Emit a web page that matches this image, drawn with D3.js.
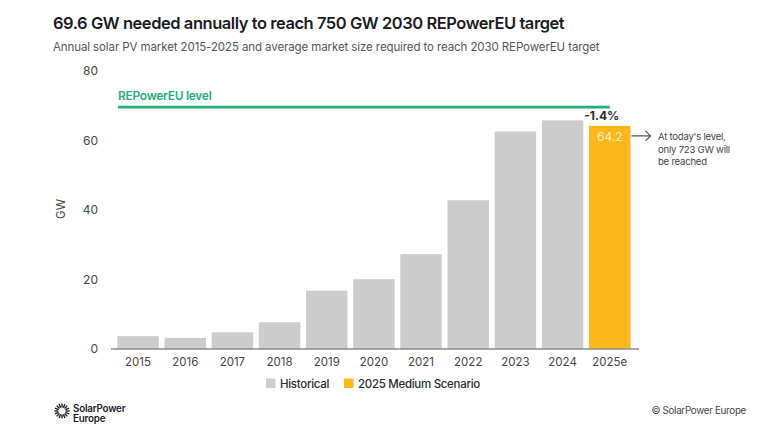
<!DOCTYPE html>
<html>
<head>
<meta charset="utf-8">
<script src="https://cdn.jsdelivr.net/npm/d3@7"></script>
<style>
  body { margin: 0; background: #fff; }
  svg { display: block; font-family: Inter, "Noto Sans", sans-serif; }
</style>
</head>
<body>
<div class="container"></div>
<script>
// values
var years = ["2015", "2016", "2017", "2018", "2019", "2020", "2021", "2022", "2023", "2024", "2025e"];
var marketGW = [3.7, 3.2, 4.8, 7.7, 16.8, 20.1, 27.3, 42.8, 62.6, 65.8, 64.2];
var seriesOf = ["hist", "hist", "hist", "hist", "hist", "hist", "hist", "hist", "hist", "hist", "scen"];
var yTicks = [0, 20, 40, 60, 80];
var targetLevel = 69.6;
var legendItems = [{key: "hist", label: "Historical"}, {key: "scen", label: "2025 Medium Scenario"}];
var noteLines = ["At today's level,", "only 723 GW will", "be reached"];

var colors = {hist: "#cccccc", scen: "#fbb81a"};
var width = 760, height = 427;

var svg = d3.select(".container").append("svg")
	.attr("width", width)
	.attr("height", height);

var data = years.map(function(y, i) { return {year: y, value: marketGW[i], series: seriesOf[i]}; });

var x = d3.scaleBand().domain(years).range([117.3, 630.5]).paddingInner(0.12).paddingOuter(0);
var y = d3.scaleLinear().domain([0, 80]).range([349, 71]);

// titles
svg.append("text").attr("x", 53).attr("y", 29)
	.attr("font-size", 16.5).attr("font-weight", 600).attr("fill", "#1b1b24")
	.attr("letter-spacing", -0.45)
	.text("69.6 GW needed annually to reach 750 GW 2030 REPowerEU target");
svg.append("text").attr("x", 53).attr("y", 51)
	.attr("font-size", 11.5).attr("fill", "#555").attr("letter-spacing", -0.1)
	.text("Annual solar PV market 2015-2025 and average market size required to reach 2030 REPowerEU target");

// y axis (labels only)
var yAxis = svg.append("g").attr("transform", "translate(98,0)")
	.call(d3.axisLeft(y).tickValues(yTicks).tickSize(0).tickPadding(0));
yAxis.select(".domain").remove();
yAxis.selectAll("text").attr("font-family", "Inter, sans-serif").attr("font-size", 12).attr("fill", "#444");

svg.append("text")
	.attr("transform", "translate(65,209) rotate(-90)")
	.attr("text-anchor", "middle").attr("font-size", 11.5).attr("fill", "#444")
	.text("GW");

// bars
svg.append("g").selectAll("rect").data(data).enter().append("rect")
	.attr("x", function(d) { return x(d.year); })
	.attr("y", function(d) { return y(d.value); })
	.attr("width", x.bandwidth())
	.attr("height", function(d) { return y(0) - y(d.value); })
	.attr("fill", function(d) { return colors[d.series]; });

// x axis
var xAxis = svg.append("g").attr("transform", "translate(0," + y(0) + ")")
	.call(d3.axisBottom(x).tickSize(0).tickPadding(9));
xAxis.select(".domain").attr("d", "M111,0H639").attr("stroke", "#8a8a8a").attr("stroke-width", 1.6);
xAxis.selectAll("text").attr("font-family", "Inter, sans-serif").attr("font-size", 11.5).attr("fill", "#444");

// REPowerEU level
var last = data[data.length - 1];
svg.append("line")
	.attr("x1", 118).attr("x2", x(last.year) + x.bandwidth() / 2)
	.attr("y1", y(targetLevel)).attr("y2", y(targetLevel))
	.attr("stroke", "#1fb07a").attr("stroke-width", 2.6);
svg.append("text").attr("x", 118).attr("y", y(targetLevel) - 7)
	.attr("font-size", 12).attr("font-weight", 600).attr("fill", "#1fb07a").attr("letter-spacing", -0.3)
	.text("REPowerEU level");

// last bar labels
svg.append("text")
	.attr("x", x(last.year) + x.bandwidth() / 2 - 8).attr("y", y(last.value) - 6)
	.attr("text-anchor", "middle").attr("font-size", 12).attr("font-weight", 700).attr("fill", "#2a2a2a")
	.text("-1.4%");
svg.append("text")
	.attr("x", x(last.year) + x.bandwidth() / 2).attr("y", y(last.value) + 15)
	.attr("text-anchor", "middle").attr("font-size", 12).attr("fill", "#fdecc0")
	.text(d3.format(".1f")(last.value));

// arrow + note
var ax = x(last.year) + x.bandwidth(), ay = y(last.value) + 10;
svg.append("path")
	.attr("d", "M" + (ax + 1) + "," + ay + "H" + (ax + 20) + "M" + (ax + 15) + "," + (ay - 5) + "L" + (ax + 20) + "," + ay + "L" + (ax + 15) + "," + (ay + 5))
	.attr("fill", "none").attr("stroke", "#555").attr("stroke-width", 1.1);
svg.append("g").selectAll("text").data(noteLines).enter().append("text")
	.attr("x", 658).attr("y", function(d, i) { return ay + 4 + i * 12.6; })
	.attr("font-size", 9.6).attr("fill", "#444").attr("letter-spacing", -0.25)
	.text(function(d) { return d; });

// legend
var legend = svg.append("g").selectAll("g").data(legendItems).enter().append("g")
	.attr("transform", function(d, i) { return "translate(" + (i === 0 ? 266 : 344) + ",378.5)"; });
legend.append("rect").attr("width", 9.5).attr("height", 9.5).attr("fill", function(d) { return colors[d.key]; });
legend.append("text").attr("x", 14).attr("y", 9)
	.attr("font-size", 11.5).attr("font-weight", 500).attr("fill", "#2a2a2a").attr("letter-spacing", -0.3)
	.text(function(d) { return d.label; });

// footer logo
var sun = svg.append("g").attr("transform", "translate(62,411)");
sun.selectAll("line").data(d3.range(16)).enter().append("line")
	.attr("x1", function(i) { return 3.6 * Math.cos(i * Math.PI / 8); })
	.attr("y1", function(i) { return 3.6 * Math.sin(i * Math.PI / 8); })
	.attr("x2", function(i) { return 7.6 * Math.cos(i * Math.PI / 8); })
	.attr("y2", function(i) { return 7.6 * Math.sin(i * Math.PI / 8); })
	.attr("stroke", "#1b1b24").attr("stroke-width", 1.4);
svg.append("text").attr("x", 73).attr("y", 411.5)
	.attr("font-size", 9.8).attr("font-weight", 600).attr("fill", "#1b1b24").attr("letter-spacing", -0.2)
	.text("SolarPower");
svg.append("text").attr("x", 73).attr("y", 422)
	.attr("font-size", 9.8).attr("font-weight", 600).attr("fill", "#1b1b24").attr("letter-spacing", -0.2)
	.text("Europe");
svg.append("text").attr("x", 746).attr("y", 414).attr("text-anchor", "end")
	.attr("font-size", 9.8).attr("fill", "#444").attr("letter-spacing", -0.3)
	.text("\u00a9 SolarPower Europe");
</script>
</body>
</html>
